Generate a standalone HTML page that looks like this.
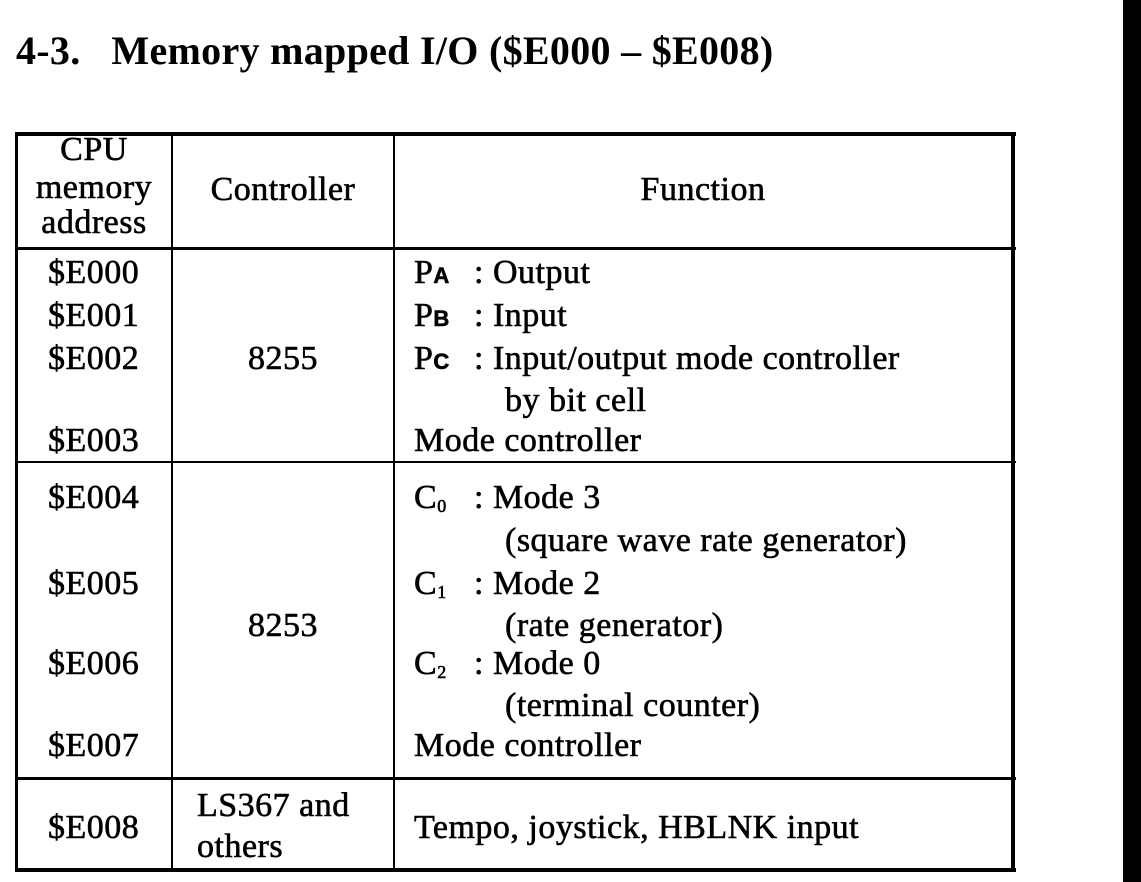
<!DOCTYPE html>
<html><head><meta charset="utf-8">
<style>
body{margin:0;width:1141px;height:882px;background:#fff;position:relative;overflow:hidden;font-family:"Liberation Serif",serif;color:#000}
.t{position:absolute;font-size:34px;line-height:43px;height:43px;white-space:nowrap;-webkit-text-stroke:0.6px #000;letter-spacing:0.5px}
.c{transform:translateX(-50%)}
.l{position:absolute;background:#000}
sub{font-size:18px;vertical-align:-4px}
.sc{font-size:22px;font-family:"Liberation Sans",sans-serif;font-weight:bold}
</style></head><body>
<div style="position:absolute;left:16px;top:25px;font-size:40px;font-weight:bold;line-height:52px;white-space:nowrap;letter-spacing:0.3px">4-3.&nbsp;&nbsp; Memory mapped I/O ($E000 – $E008)</div>
<div class="l" style="left:1123px;top:0;width:18px;height:882px"></div>

<div style="position:absolute;left:0;top:0;width:1141px;height:882px">
<div class="l" style="left:15px;top:132px;width:1001px;height:4px"></div>
<div class="l" style="left:15px;top:868px;width:1001px;height:4px"></div>
<div class="l" style="left:15px;top:132px;width:3px;height:740px"></div>
<div class="l" style="left:1011px;top:132px;width:4px;height:740px"></div>
<div class="l" style="left:171px;top:132px;width:2px;height:740px"></div>
<div class="l" style="left:393px;top:132px;width:2px;height:740px"></div>
<div class="l" style="left:15px;top:247px;width:1001px;height:3px"></div>
<div class="l" style="left:15px;top:461px;width:1001px;height:2px"></div>
<div class="l" style="left:15px;top:777px;width:1001px;height:3px"></div>

<div class="t c" style="left:94px;top:131px;line-height:38px">CPU</div>
<div class="t c" style="left:94px;top:169px;line-height:38px">memory</div>
<div class="t c" style="left:94px;top:204px;line-height:38px">address</div>
<div class="t c" style="left:283px;top:168px">Controller</div>
<div class="t c" style="left:703px;top:168px">Function</div>

<div class="t" style="left:48px;top:251px">$E000</div>
<div class="t" style="left:48px;top:294px">$E001</div>
<div class="t" style="left:48px;top:337px">$E002</div>
<div class="t" style="left:48px;top:419px">$E003</div>
<div class="t c" style="left:283px;top:337px">8255</div>
<div class="t" style="left:414px;top:251px">P<span class="sc">A</span></div>
<div class="t" style="left:474px;top:251px">: Output</div>
<div class="t" style="left:414px;top:294px">P<span class="sc">B</span></div>
<div class="t" style="left:474px;top:294px">: Input</div>
<div class="t" style="left:414px;top:337px">P<span class="sc">C</span></div>
<div class="t" style="left:474px;top:337px">: Input/output mode controller</div>
<div class="t" style="left:505px;top:379px">by bit cell</div>
<div class="t" style="left:414px;top:419px">Mode controller</div>

<div class="t" style="left:48px;top:476px">$E004</div>
<div class="t" style="left:48px;top:562px">$E005</div>
<div class="t" style="left:48px;top:642px">$E006</div>
<div class="t" style="left:48px;top:724px">$E007</div>
<div class="t c" style="left:283px;top:604px">8253</div>
<div class="t" style="left:414px;top:476px">C<sub>0</sub></div>
<div class="t" style="left:474px;top:476px">: Mode 3</div>
<div class="t" style="left:505px;top:519px">(square wave rate generator)</div>
<div class="t" style="left:414px;top:562px">C<sub>1</sub></div>
<div class="t" style="left:474px;top:562px">: Mode 2</div>
<div class="t" style="left:505px;top:604px">(rate generator)</div>
<div class="t" style="left:414px;top:642px">C<sub>2</sub></div>
<div class="t" style="left:474px;top:642px">: Mode 0</div>
<div class="t" style="left:505px;top:684px">(terminal counter)</div>
<div class="t" style="left:414px;top:724px">Mode controller</div>

<div class="t" style="left:48px;top:806px">$E008</div>
<div class="t" style="left:197px;top:785px;line-height:41px">LS367 and</div>
<div class="t" style="left:197px;top:826px;line-height:41px">others</div>
<div class="t" style="left:414px;top:806px">Tempo, joystick, HBLNK input</div>
</div>
</body></html>
